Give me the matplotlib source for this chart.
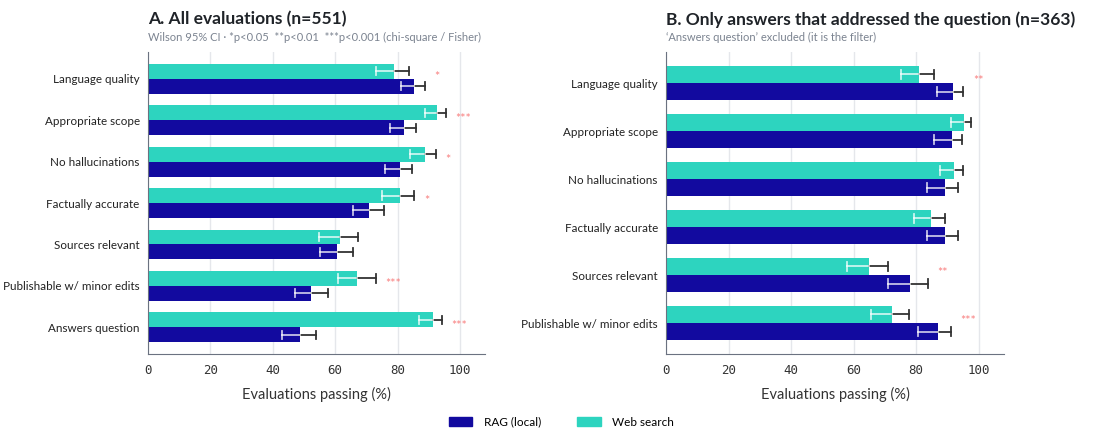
import matplotlib
matplotlib.use("Agg")
import matplotlib.pyplot as plt
import numpy as np
from matplotlib.patches import Patch

plt.rcParams["font.family"] = ["Lato", "DejaVu Sans"]

RAG_COLOR = "#120a9f"
WEB_COLOR = "#2dd4bf"
STAR_COLOR = "#f87171"

# Panel A: all evaluations (n=551)
cats_a = ["Language quality", "Appropriate scope", "No hallucinations",
          "Factually accurate", "Sources relevant",
          "Publishable w/ minor edits", "Answers question"]
web_a = [78.9, 92.7, 88.7, 80.7, 61.5, 67.1, 91.2]
web_a_lo = [73.0, 88.7, 83.9, 75.0, 54.9, 60.9, 86.9]
web_a_hi = [83.7, 95.5, 92.2, 85.4, 67.4, 73.1, 94.3]
rag_a = [85.3, 82.2, 80.7, 70.8, 60.5, 52.4, 48.6]
rag_a_lo = [81.0, 77.7, 76.1, 65.8, 55.2, 47.1, 43.0]
rag_a_hi = [88.8, 86.0, 84.7, 75.8, 65.7, 57.7, 53.8]
sig_a = ["*", "***", "*", "*", "", "***", "***"]

# Panel B: only answers that addressed the question (n=363)
cats_b = ["Language quality", "Appropriate scope", "No hallucinations",
          "Factually accurate", "Sources relevant",
          "Publishable w/ minor edits"]
web_b = [80.8, 95.2, 92.2, 84.6, 64.8, 72.1]
web_b_lo = [75.0, 91.2, 87.7, 79.2, 57.9, 65.5]
web_b_hi = [85.8, 97.4, 95.1, 89.1, 71.0, 77.8]
rag_b = [91.9, 91.3, 89.2, 89.2, 78.0, 86.8]
rag_b_lo = [86.6, 85.8, 83.5, 83.5, 71.0, 80.7]
rag_b_hi = [95.1, 94.7, 93.2, 93.2, 83.7, 91.2]
sig_b = ["**", "", "", "", "**", "***"]


def draw_ci(ax, y, val, lo, hi, cap=0.1):
    # part outside the bar is dark, part inside the bar is light
    ax.plot([val, hi], [y, y], color="#333333", lw=1.3, zorder=3)
    ax.plot([hi, hi], [y - cap, y + cap], color="#333333", lw=1.3, zorder=3)
    ax.plot([lo, val], [y, y], color="white", alpha=0.75, lw=1.3, zorder=3)
    ax.plot([lo, lo], [y - cap, y + cap], color="white", alpha=0.75,
            lw=1.3, zorder=3)


def draw_panel(ax, cats, web, web_lo, web_hi, rag, rag_lo, rag_hi, sig,
               title, subtitle):
    y = np.arange(len(cats))
    h = 0.36
    ax.barh(y - h / 2, web, height=h, color=WEB_COLOR, zorder=2)
    ax.barh(y + h / 2, rag, height=h, color=RAG_COLOR, zorder=2)
    for i in range(len(cats)):
        draw_ci(ax, y[i] - h / 2, web[i], web_lo[i], web_hi[i])
        draw_ci(ax, y[i] + h / 2, rag[i], rag_lo[i], rag_hi[i])
        if sig[i]:
            x = max(web_hi[i], rag_hi[i]) + 3
            ax.text(x, y[i] - 0.04, sig[i], color=STAR_COLOR, fontsize=9,
                    ha="left", va="center", alpha=0.9)

    ax.set_yticks(y)
    ax.set_yticklabels(cats, fontsize=8.4, color="#222222")
    ax.set_ylim(len(cats) - 0.35, -0.65)
    ax.set_xlim(0, 108)
    ax.set_xticks([0, 20, 40, 60, 80, 100])
    ax.set_xticklabels(["0", "20", "40", "60", "80", "100"],
                       family="DejaVu Sans Mono", fontsize=9, color="#333333")
    ax.tick_params(axis="x", length=0, pad=7)
    ax.tick_params(axis="y", length=0, pad=6)
    ax.set_xlabel("Evaluations passing (%)", fontsize=10.5, color="#333333",
                  labelpad=7)
    ax.grid(axis="x", color="#e5e7eb", lw=1, zorder=0)
    ax.set_axisbelow(True)
    for s in ["top", "right"]:
        ax.spines[s].set_visible(False)
    for s in ["left", "bottom"]:
        ax.spines[s].set_color("#6b7280")
    ax.text(0, 1.08, title, transform=ax.transAxes, fontsize=12.5,
            fontweight="bold", color="#1f2328", ha="left", va="bottom")
    ax.text(0, 1.03, subtitle, transform=ax.transAxes, fontsize=8,
            color="#7b8390", ha="left", va="bottom")


fig = plt.figure(figsize=(11.12, 4.32), dpi=100)
ax_a = fig.add_axes([0.1331, 0.18, 0.303, 0.70])
ax_b = fig.add_axes([0.599, 0.18, 0.3037, 0.70])

draw_panel(ax_a, cats_a, web_a, web_a_lo, web_a_hi, rag_a, rag_a_lo,
           rag_a_hi, sig_a, "A. All evaluations (n=551)",
           "Wilson 95% CI · *p<0.05  **p<0.01  ***p<0.001 (chi-square / Fisher)")
draw_panel(ax_b, cats_b, web_b, web_b_lo, web_b_hi, rag_b, rag_b_lo,
           rag_b_hi, sig_b, "B. Only answers that addressed the question (n=363)",
           "‘Answers question’ excluded (it is the filter)")

handles = [Patch(color=RAG_COLOR, label="RAG (local)"),
           Patch(color=WEB_COLOR, label="Web search")]
fig.legend(handles=handles, loc="center", bbox_to_anchor=(0.505, 0.023),
           ncol=2, frameon=False, fontsize=8.5, handlelength=2.0,
           handleheight=0.9, columnspacing=3.0, handletextpad=1.0)

fig.savefig("out.png", dpi=100)
